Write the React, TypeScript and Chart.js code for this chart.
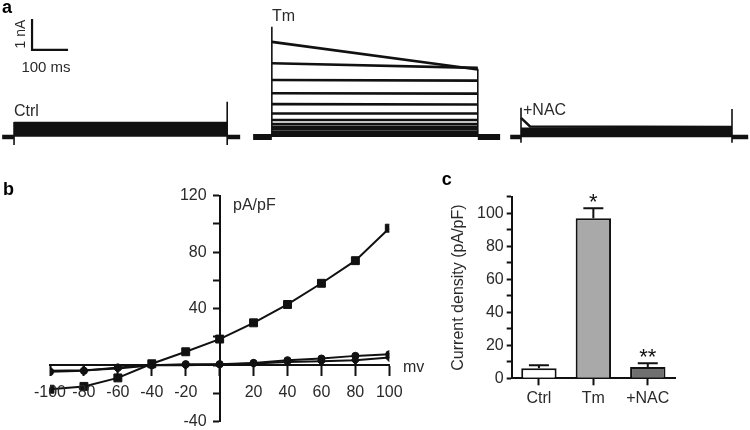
import React, { useEffect, useRef } from "react";
import { Chart, registerables } from "chart.js";

Chart.register(...registerables);

const FONT_FAMILY = "'Liberation Sans', Arial, Helvetica, sans-serif";
const INK = "#111111";
const LABEL = "#2a2a2a";

// ---------- Panel a: current traces (time in ms, current in nA) ----------
const recordingNames = ["Ctrl", "Tm", "+NAC"];
const recordingStart = [6, 703, 1417];
const pulseOnset = [39, 755, 1447];
const pulseOffset = [631, 1327, 2033];
const recordingEnd = [667, 1389, 2078];

const ctrlSweepLevels = [0.45, 0.39, 0.33, 0.27, 0.21, 0.15, 0.1, 0.05];
const tmSweepStart = [3.07, 2.38, 1.84, 1.41, 1.06, 0.76, 0.55, 0.42, 0.33, 0.25, 0.17, 0.1, 0.04];
const tmSweepEnd = [2.18, 2.23, 1.82, 1.4, 1.05, 0.76, 0.55, 0.42, 0.33, 0.25, 0.17, 0.1, 0.04];
const nacSweepLevels = [0.32, 0.27, 0.22, 0.17, 0.12, 0.07, 0.03];
const nacOnsetPeak = 0.62;
const nacPeakDecayMs = 25;

// capacitive transients [low, high] at pulse onset / offset
const onsetTransient = [[-0.26, 0.48], [0, 3.56], [-0.19, 0.94]];
const offsetTransient = [[-0.26, 1.14], [0, 2.2], [-0.19, 0.9]];

const scaleBarOrigin = { t: 89, i: 2.81 };
const scaleBarMs = 100;
const scaleBarNa = 1;

// ---------- Panel b: I-V relation ----------
const ivVoltages = [-100, -80, -60, -40, -20, 0, 20, 40, 60, 80, 100];
const ivTm = [-17, -15, -9, 1, 9.5, 18.5, 30, 43, 58, 74, 97];
const ivCtrl = [-4.7, -4, -1.6, 0, 0.7, 0.7, 1.6, 3.5, 4.7, 6.6, 7.7];
const ivNac = [-4, -3.5, -2.3, 0, 0, 0.5, 1.2, 2.3, 2.8, 3.5, 5.4];

// ---------- Panel c: current density ----------
const barCategories = ["Ctrl", "Tm", "+NAC"];
const barMeans = [6.1, 97, 6.9];
const barErrors = [1.8, 6, 2.2];
const barStars = ["", "*", "**"];
const barColors = ["#ffffff", "#a9a9a9", "#707070"];

type TextItem = {
  text: string;
  x: number;
  y: number;
  size: number;
  bold?: boolean;
  align?: CanvasTextAlign;
  rotate?: number;
};

const makeTextPlugin = (id: string, items: TextItem[]) => ({
  id,
  afterDraw(chart: any) {
    const ctx = chart.ctx as CanvasRenderingContext2D;
    items.forEach((it) => {
      ctx.save();
      ctx.fillStyle = it.bold ? "#000" : LABEL;
      ctx.font = `${it.bold ? "bold " : ""}${it.size}px ${FONT_FAMILY}`;
      ctx.textAlign = it.align ?? "left";
      ctx.textBaseline = "alphabetic";
      ctx.translate(it.x, it.y);
      if (it.rotate) ctx.rotate(it.rotate);
      ctx.fillText(it.text, 0, 0);
      ctx.restore();
    });
  },
});

const seg = (points: { x: number; y: number }[], width = 2.4) => ({
  data: points,
  showLine: true,
  borderColor: INK,
  backgroundColor: INK,
  borderWidth: width,
  pointRadius: 0,
  fill: false,
  tension: 0,
});

function traceConfig(): any {
  const ds: any[] = [];
  recordingNames.forEach((_, r) => {
    const holdWidth = r === 1 ? 6 : 4.5;
    ds.push(seg([{ x: recordingStart[r], y: 0 }, { x: pulseOnset[r], y: 0 }], holdWidth));
    ds.push(seg([{ x: pulseOffset[r], y: 0 }, { x: recordingEnd[r], y: 0 }], holdWidth));
    ds.push(seg([{ x: pulseOnset[r], y: onsetTransient[r][0] }, { x: pulseOnset[r], y: onsetTransient[r][1] }], 1.6));
    ds.push(seg([{ x: pulseOffset[r], y: offsetTransient[r][0] }, { x: pulseOffset[r], y: offsetTransient[r][1] }], 1.6));
  });
  ctrlSweepLevels.forEach((l) =>
    ds.push(seg([{ x: pulseOnset[0], y: l }, { x: pulseOffset[0], y: l }], 2.6))
  );
  tmSweepStart.forEach((l, k) =>
    ds.push(seg([{ x: pulseOnset[1], y: l }, { x: pulseOffset[1], y: tmSweepEnd[k] }], 2.6))
  );
  nacSweepLevels.forEach((l, k) => {
    const pts = k === 0
      ? [
          { x: pulseOnset[2], y: nacOnsetPeak },
          { x: pulseOnset[2] + nacPeakDecayMs, y: l + 0.02 },
          { x: pulseOffset[2], y: l },
        ]
      : [{ x: pulseOnset[2], y: l }, { x: pulseOffset[2], y: l }];
    ds.push(seg(pts, 2.4));
  });
  // scale bar
  ds.push(
    seg(
      [
        { x: scaleBarOrigin.t, y: scaleBarOrigin.i + scaleBarNa },
        { x: scaleBarOrigin.t, y: scaleBarOrigin.i },
        { x: scaleBarOrigin.t + scaleBarMs, y: scaleBarOrigin.i },
      ],
      2.2
    )
  );
  return {
    type: "scatter",
    data: { datasets: ds },
    options: {
      responsive: false,
      animation: false,
      devicePixelRatio: 1,
      layout: { padding: 0 },
      plugins: { legend: { display: false }, tooltip: { enabled: false } },
      scales: {
        x: { type: "linear", display: false, min: 0, max: 2083 },
        y: { type: "linear", display: false, min: -0.42, max: 4.42 },
      },
    },
    plugins: [
      makeTextPlugin("textA", [
        { text: "a", x: 2, y: 13, size: 18, bold: true },
        { text: "1 nA", x: 25, y: 34, size: 14, align: "center", rotate: -Math.PI / 2 },
        { text: "100 ms", x: 46, y: 72, size: 15, align: "center" },
        { text: recordingNames[0], x: 14, y: 116, size: 16 },
        { text: recordingNames[1], x: 272, y: 21, size: 16 },
        { text: recordingNames[2], x: 523, y: 115, size: 16 },
      ]),
    ],
  };
}

// tick labels for the crossing axes of panel b, placed from the chart's own scales
const ivTickLabels = {
  id: "ivTickLabels",
  afterDraw(chart: any) {
    const ctx = chart.ctx as CanvasRenderingContext2D;
    const xs = chart.scales.x;
    const ys = chart.scales.y;
    const x0 = xs.getPixelForValue(0);
    const y0 = ys.getPixelForValue(0);
    ctx.save();
    ctx.fillStyle = LABEL;
    ctx.font = `16px ${FONT_FAMILY}`;
    ctx.textAlign = "center";
    ctx.textBaseline = "alphabetic";
    xs.ticks.forEach((t: any) => {
      if (t.value !== 0) ctx.fillText(String(t.value), xs.getPixelForValue(t.value), y0 + 31.5);
    });
    ctx.textAlign = "right";
    ctx.textBaseline = "middle";
    ys.ticks.forEach((t: any) => {
      if (t.value % 40 === 0 && t.value !== 0) ctx.fillText(String(t.value), x0 - 13, ys.getPixelForValue(t.value));
    });
    ctx.restore();
  },
};

function ivConfig(): any {
  const mk = (vals: number[], style: string, radius: number) => ({
    data: ivVoltages.map((v, i) => ({ x: v, y: vals[i] })),
    showLine: true,
    borderColor: INK,
    backgroundColor: INK,
    borderWidth: 2,
    pointStyle: style,
    pointRadius: radius,
    pointBorderWidth: 1,
    tension: 0,
  });
  return {
    type: "scatter",
    data: {
      datasets: [mk(ivCtrl, "circle", 3.6), mk(ivNac, "rectRot", 4.2), mk(ivTm, "rect", 5.6)],
    },
    options: {
      responsive: false,
      animation: false,
      devicePixelRatio: 1,
      layout: { padding: { left: 50, right: 50.7, top: 20.7, bottom: 8.3 } },
      plugins: { legend: { display: false }, tooltip: { enabled: false } },
      scales: {
        x: {
          type: "linear",
          min: -100,
          max: 100,
          position: { y: 0 },
          border: { display: true, color: INK, width: 2 },
          grid: { drawOnChartArea: false, drawTicks: true, tickLength: 10, tickColor: INK, tickWidth: 2 },
          ticks: { stepSize: 20, autoSkip: false, display: false },
        },
        y: {
          type: "linear",
          min: -40,
          max: 120,
          position: { x: 0 },
          border: { display: true, color: INK, width: 2 },
          grid: { drawOnChartArea: false, drawTicks: true, tickLength: 6, tickColor: INK, tickWidth: 2 },
          ticks: { stepSize: 20, autoSkip: false, display: false },
        },
      },
    },
    plugins: [
      ivTickLabels,
      makeTextPlugin("textB", [
        { text: "b", x: 3, y: 20, size: 18, bold: true },
        { text: "pA/pF", x: 233, y: 34.5, size: 16 },
        { text: "mv", x: 403, y: 196.7, size: 16 },
      ]),
    ],
  };
}

const errorBarPlugin = {
  id: "errorBars",
  afterDatasetsDraw(chart: any) {
    const ctx = chart.ctx as CanvasRenderingContext2D;
    const meta = chart.getDatasetMeta(0);
    const yScale = chart.scales.y;
    meta.data.forEach((bar: any, i: number) => {
      const top = yScale.getPixelForValue(barMeans[i] + barErrors[i]);
      ctx.save();
      ctx.strokeStyle = INK;
      ctx.lineWidth = 2;
      ctx.beginPath();
      ctx.moveTo(bar.x, bar.y);
      ctx.lineTo(bar.x, top);
      ctx.moveTo(bar.x - 10, top);
      ctx.lineTo(bar.x + 10, top);
      ctx.stroke();
      if (barStars[i]) {
        ctx.fillStyle = INK;
        ctx.font = `22px ${FONT_FAMILY}`;
        ctx.textAlign = "center";
        ctx.textBaseline = "middle";
        ctx.fillText(barStars[i], bar.x, top - 5);
      }
      ctx.restore();
    });
  },
};

function barConfig(): any {
  const tickFont = { size: 16, family: FONT_FAMILY };
  return {
    type: "bar",
    data: {
      labels: barCategories,
      datasets: [
        {
          data: barMeans,
          backgroundColor: barColors,
          borderColor: INK,
          borderWidth: 2,
          borderSkipped: "bottom",
          barPercentage: 0.65,
          categoryPercentage: 1,
        },
      ],
    },
    options: {
      responsive: false,
      animation: false,
      devicePixelRatio: 1,
      layout: { padding: { left: 0, right: 75, top: 21.8, bottom: 0 } },
      plugins: { legend: { display: false }, tooltip: { enabled: false } },
      scales: {
        x: {
          border: { display: true, color: INK, width: 2 },
          grid: { display: true, offset: false, drawOnChartArea: false, drawTicks: true, tickLength: 7, tickColor: INK, tickWidth: 2 },
          ticks: { color: LABEL, font: tickFont, padding: 4, maxRotation: 0 },
          afterFit: (s: any) => {
            s.height = 51.7;
          },
        },
        y: {
          min: 0,
          max: 110,
          border: { display: true, color: INK, width: 2 },
          grid: { drawOnChartArea: false, drawTicks: true, tickLength: 5, tickColor: INK, tickWidth: 2 },
          ticks: {
            stepSize: 10,
            autoSkip: false,
            padding: 3,
            color: LABEL,
            font: tickFont,
            callback: (v: number) => (v % 20 === 0 ? String(v) : ""),
          },
          title: {
            display: true,
            text: "Current density (pA/pF)",
            color: LABEL,
            font: { size: 16, family: FONT_FAMILY },
            padding: { top: 8.7, bottom: 0 },
          },
          afterFit: (s: any) => {
            s.width = 71.7;
          },
        },
      },
    },
    plugins: [errorBarPlugin, makeTextPlugin("textC", [{ text: "c", x: 1.7, y: 10, size: 18, bold: true }])],
  };
}

export default function App() {
  const aRef = useRef<HTMLCanvasElement>(null);
  const bRef = useRef<HTMLCanvasElement>(null);
  const cRef = useRef<HTMLCanvasElement>(null);

  useEffect(() => {
    const charts: Chart[] = [];
    if (aRef.current) charts.push(new Chart(aRef.current, traceConfig()));
    if (bRef.current) charts.push(new Chart(bRef.current, ivConfig()));
    if (cRef.current) charts.push(new Chart(cRef.current, barConfig()));
    return () => charts.forEach((c) => c.destroy());
  }, []);

  return (
    <div style={{ position: "absolute", left: 0, top: 0, width: 750, height: 430, background: "#fff", overflow: "hidden" }}>
      <canvas ref={aRef} width={750} height={150} style={{ position: "absolute", left: 0, top: 0, width: 750, height: 150 }} />
      <canvas ref={bRef} width={440} height={255} style={{ position: "absolute", left: 0, top: 175, width: 440, height: 255 }} />
      <canvas ref={cRef} width={310} height={255} style={{ position: "absolute", left: 440, top: 175, width: 310, height: 255 }} />
    </div>
  );
}
